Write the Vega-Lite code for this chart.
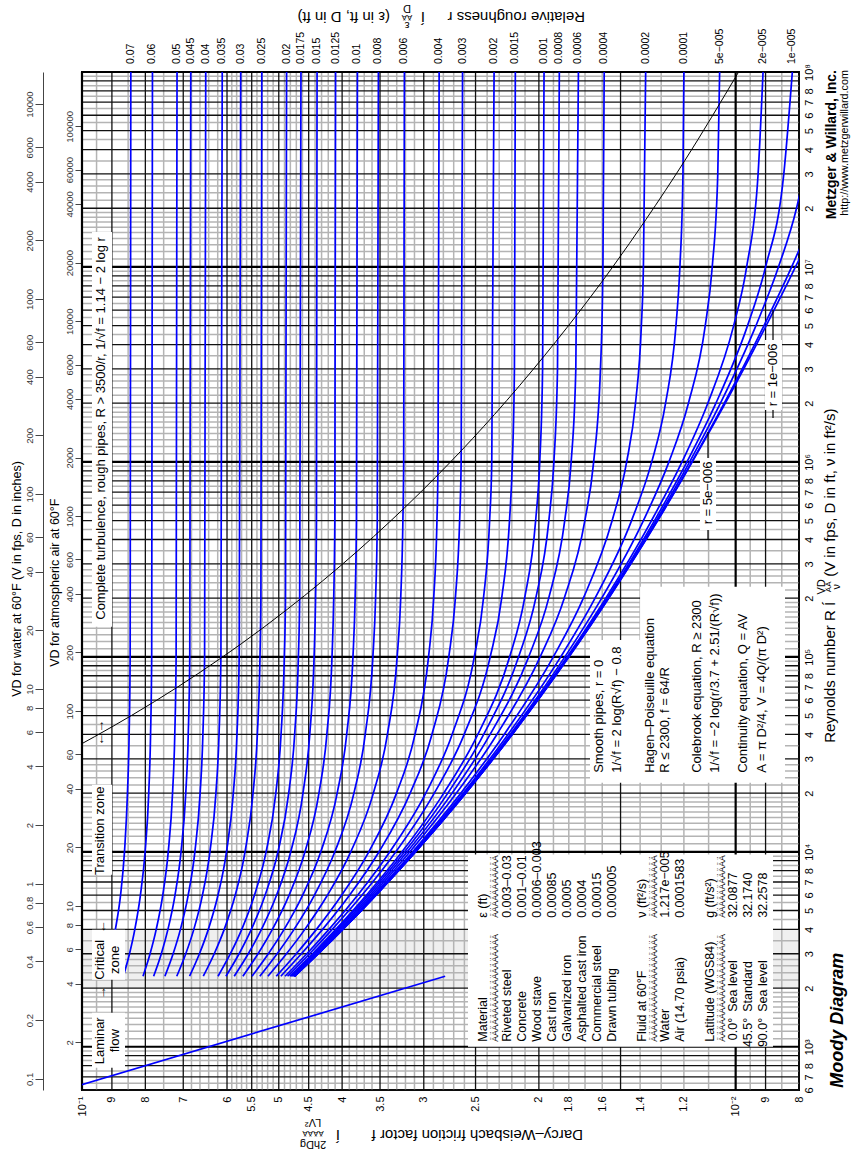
{
"$schema":"https://vega.github.io/schema/vega-lite/v6.json",
"width":717,"height":1018,
"autosize":{"type":"none"},
"padding":{"left":82,"top":72,"right":64,"bottom":67},
"background":"#ffffff",
"config":{"view":{"stroke":"#000000","strokeWidth":2},"font":"Liberation Sans","text":{"font":"Liberation Sans","color":"#000000"},"axis":{"labelFont":"Liberation Sans","titleFont":"Liberation Sans"}},
"datasets":{
"curves":[
{"r":"0.07","Re":[2300,3000,4000,6000,1e4,2e4,4e4,1e5,1e8],"f":[0.0921,0.0903,0.0889,0.0873,0.0861,0.0852,0.0847,0.0844,0.0842]},
{"r":"0.06","Re":[2300,3000,4000,6000,1e4,2e4,4e4,1e5,1e8],"f":[0.08645,0.08459,0.08302,0.0814,0.08006,0.07905,0.07854,0.07823,0.07802]},
{"r":"0.05","Re":[2300,3000,4000,6000,1e4,2e4,4e4,1e5,1e8],"f":[0.08066,0.07868,0.07699,0.07524,0.0738,0.07269,0.07212,0.07178,0.07155]},
{"r":"0.045","Re":[2300,3000,4000,6000,1e4,2e4,4e4,1e5,1e8],"f":[0.0777,0.07562,0.07388,0.07206,0.07055,0.06938,0.06878,0.06841,0.06817]},
{"r":"0.04","Re":[2300,3000,4000,6000,1e4,2e4,4e4,1e5,1e8],"f":[0.07468,0.07254,0.0707,0.06879,0.06719,0.06596,0.06532,0.06493,0.06467]},
{"r":"0.035","Re":[2300,3000,4000,6000,1e4,2e4,4e4,1e5,1e8],"f":[0.07162,0.06938,0.06744,0.06542,0.06372,0.06239,0.06171,0.0613,0.06102]},
{"r":"0.03","Re":[2300,3000,4000,6000,1e4,2e4,4e4,1e5,1e8],"f":[0.06846,0.06612,0.06408,0.06193,0.06011,0.05868,0.05793,0.05748,0.05717]},
{"r":"0.025","Re":[2300,3000,4000,6000,1e4,2e4,4e4,1e5,2e5,1e8],"f":[0.06523,0.06276,0.06059,0.05828,0.05631,0.05474,0.05392,0.05342,0.05325,0.05308]},
{"r":"0.02","Re":[2300,3000,4000,6000,1e4,2e4,4e4,1e5,2e5,1e8],"f":[0.06193,0.05929,0.05696,0.05446,0.05228,0.05052,0.0496,0.04903,0.04883,0.04864]},
{"r":"0.0175","Re":[2300,3000,4000,6000,1e4,2e4,4e4,1e5,2e5,1e8],"f":[0.06023,0.0575,0.05507,0.05245,0.05014,0.04828,0.04728,0.04666,0.04645,0.04624]},
{"r":"0.015","Re":[2300,3000,4000,6000,1e4,2e4,4e4,1e5,2e5,5e5,1e8],"f":[0.0585,0.05567,0.05314,0.05038,0.04793,0.04591,0.04483,0.04415,0.04392,0.04378,0.04369]},
{"r":"0.0125","Re":[2300,3000,4000,6000,1e4,2e4,4e4,1e5,2e5,5e5,1e8],"f":[0.05674,0.05379,0.05114,0.04821,0.04559,0.0434,0.04221,0.04145,0.0412,0.04104,0.04093]},
{"r":"0.01","Re":[2300,3000,4000,6000,1e4,2e4,4e4,1e5,2e5,5e5,1e8],"f":[0.05494,0.05187,0.04907,0.04596,0.04312,0.0407,0.03936,0.0385,0.03821,0.03803,0.0379]},
{"r":"0.008","Re":[2300,3000,4000,6000,1e4,2e4,4e4,1e5,2e5,5e5,1e8],"f":[0.05345,0.05029,0.04738,0.04409,0.04104,0.03837,0.03687,0.03589,0.03555,0.03534,0.0352]},
{"r":"0.006","Re":[2300,3000,4000,6000,1e4,2e4,4e4,1e5,2e5,5e5,1e6,1e8],"f":[0.05195,0.04866,0.04561,0.04211,0.0388,0.03583,0.0341,0.03295,0.03254,0.03229,0.0322,0.03212]},
{"r":"0.004","Re":[2300,3000,4000,6000,1e4,2e4,4e4,1e5,2e5,5e5,1e6,1e8],"f":[0.05044,0.04701,0.04379,0.04005,0.03641,0.03302,0.03094,0.0295,0.02897,0.02864,0.02853,0.02842]},
{"r":"0.003","Re":[2300,3000,4000,6000,1e4,2e4,4e4,1e5,2e5,5e5,1e6,1e8],"f":[0.04964,0.04617,0.04285,0.03895,0.03512,0.03147,0.02915,0.02747,0.02684,0.02644,0.0263,0.02617]},
{"r":"0.002","Re":[2300,3000,4000,6000,1e4,2e4,4e4,1e5,2e5,5e5,1e6,1e8],"f":[0.04891,0.04529,0.0419,0.03785,0.03381,0.02979,0.02715,0.02511,0.02431,0.02379,0.02361,0.02342]},
{"r":"0.0015","Re":[2300,3000,4000,6000,1e4,2e4,4e4,1e5,2e5,5e5,1e6,3e6,1e8],"f":[0.04848,0.04485,0.04142,0.03728,0.0331,0.02891,0.02602,0.02374,0.0228,0.02218,0.02196,0.0218,0.02173]},
{"r":"0.001","Re":[2300,3000,4000,6000,1e4,2e4,4e4,1e5,2e5,5e5,1e6,3e6,1e8],"f":[0.04809,0.04439,0.0409,0.0367,0.03239,0.02796,0.0248,0.02217,0.02103,0.02023,0.01994,0.01974,0.01964]},
{"r":"0.0008","Re":[2300,3000,4000,6000,1e4,2e4,4e4,1e5,2e5,5e5,1e6,3e6,1e8],"f":[0.04794,0.04422,0.04072,0.03647,0.03209,0.02756,0.02429,0.02148,0.02022,0.01931,0.01897,0.01873,0.01861]},
{"r":"0.0006","Re":[2300,3000,4000,6000,1e4,2e4,4e4,1e5,2e5,5e5,1e6,3e6,1e8],"f":[0.04775,0.04404,0.04052,0.03621,0.0318,0.02715,0.02375,0.02073,0.01932,0.01826,0.01785,0.01756,0.0174]},
{"r":"0.0004","Re":[2300,3000,4000,6000,1e4,2e4,4e4,1e5,2e5,5e5,1e6,3e6,1e7,1e8],"f":[0.04759,0.0439,0.04031,0.03598,0.0315,0.02674,0.02319,0.01991,0.01829,0.01701,0.01649,0.0161,0.01596,0.01589]},
{"r":"0.0002","Re":[2300,3000,4000,6000,1e4,2e4,4e4,1e5,2e5,5e5,1e6,2e6,5e6,1e7,1e8],"f":[0.04744,0.04369,0.0401,0.03575,0.03119,0.02632,0.0226,0.01901,0.0171,0.01545,0.01468,0.01423,0.01394,0.01384,0.01373]},
{"r":"0.0001","Re":[2300,3000,4000,6000,1e4,2e4,4e4,1e5,2e5,5e5,1e6,2e6,5e6,1e7,3e7,1e8],"f":[0.04735,0.04361,0.04001,0.03563,0.03104,0.0261,0.0223,0.01852,0.01641,0.01443,0.01344,0.0128,0.01234,0.01217,0.01204,0.012]},
{"r":"5e−005","Re":[2300,3000,4000,6000,1e4,2e4,4e4,1e5,2e5,5e5,1e6,2e6,5e6,1e7,3e7,1e8],"f":[0.04734,0.04356,0.03995,0.03556,0.03095,0.02599,0.02213,0.01825,0.01603,0.01384,0.01265,0.01181,0.01113,0.01086,0.01065,0.01058]},
{"r":"2e−005","Re":[2300,3000,4000,6000,1e4,2e4,4e4,1e5,2e5,5e5,1e6,2e6,5e6,1e7,3e7,1e8],"f":[0.04731,0.04355,0.03993,0.03553,0.03091,0.02593,0.02203,0.0181,0.0158,0.01345,0.01208,0.01103,0.01007,0.00962,0.00924,0.00908]},
{"r":"1e−005","Re":[2300,3000,4000,6000,1e4,2e4,4e4,1e5,2e5,5e5,1e6,2e6,5e6,1e7,3e7,1e8],"f":[0.04729,0.04353,0.03992,0.03552,0.0309,0.0259,0.022,0.01804,0.01572,0.01331,0.01187,0.01072,0.00959,0.009,0.00844,0.00819]},
{"r":"5e−006","Re":[2300,3000,4000,6000,1e4,2e4,4e4,1e5,2e5,5e5,1e6,2e6,5e6,1e7,2e7,3e7],"f":[0.04729,0.04353,0.03991,0.03551,0.03089,0.02589,0.02199,0.01802,0.01568,0.01323,0.01176,0.01055,0.00931,0.0086,0.00807,0.00786]},
{"r":"1e−006","Re":[2300,3000,4000,6000,1e4,2e4,4e4,1e5,2e5,5e5,1e6,2e6,5e6,1e7,2e7],"f":[0.04728,0.04352,0.03991,0.03551,0.03088,0.02589,0.02197,0.01799,0.01565,0.01317,0.01167,0.01041,0.00905,0.00821,0.00752]},
{"r":"0","Re":[2300,3000,4000,6000,1e4,2e4,4e4,1e5,2e5,5e5,1e6,2e6,5e6,1e7,3e7],"f":[0.04728,0.04352,0.03991,0.03551,0.03088,0.02589,0.02197,0.01799,0.01564,0.01316,0.01165,0.01037,0.00898,0.0081,0.00695]}
]
},
"layer":[
{"data":{"values":[{"f":0.05,"Re":10000}]},
 "mark":{"type":"point","opacity":0},
 "encoding":{
 "x":{"field":"f","type":"quantitative","scale":{"type":"log","domain":[0.008,0.1],"reverse":true,"nice":false},
  "axis":{"orient":"bottom","values":[0.1,0.09,0.08,0.07,0.06,0.055,0.05,0.045,0.04,0.035,0.03,0.025,0.02,0.018,0.016,0.014,0.012,0.01,0.009,0.008],
  "labelExpr":"datum.value == 0.1 ? '10⁻¹' : datum.value == 0.01 ? '10⁻²' : datum.value > 0.01 ? format(datum.value * 100, '~g') : format(datum.value * 1000, '~g')",
  "labelAngle":270,"labelAlign":"right","labelBaseline":"middle","labelPadding":6,"labelFontSize":11,"labelColor":"#000000","ticks":false,"domain":false,"grid":false,"title":null,"labelOverlap":false,"labelFlush":false,"labelBound":false,"zindex":2}},
 "y":{"field":"Re","type":"quantitative","scale":{"type":"log","domain":[600,100000000],"nice":false},
  "axis":{"orient":"right","values":[600,700,800,1000,2000,3000,4000,5000,6000,7000,8000,10000,20000,30000,40000,50000,60000,70000,80000,100000,200000,300000,400000,500000,600000,700000,800000,1000000,2000000,3000000,4000000,5000000,6000000,7000000,8000000,10000000,20000000,30000000,40000000,50000000,60000000,70000000,80000000,100000000],
  "labelExpr":"datum.value == 1000 ? '10³' : datum.value == 10000 ? '10⁴' : datum.value == 100000 ? '10⁵' : datum.value == 1000000 ? '10⁶' : datum.value == 10000000 ? '10⁷' : datum.value == 100000000 ? '10⁸' : format(round(datum.value / pow(10, floor(log(datum.value) / LN10 + 1e-9))), 'd')",
  "labelAngle":270,"labelAlign":"center","labelBaseline":"top","labelPadding":4,"labelFontSize":11,"labelColor":"#000000","ticks":false,"domain":false,"grid":false,"title":null,"labelOverlap":false,"labelFlush":false,"labelBound":false,"zindex":2}}}},
{"data":{"values":[{"f1":0.1,"f2":0.008,"Re1":2000,"Re2":4000}]},
 "mark":{"type":"rect","color":"#efefef"},
 "encoding":{"x":{"field":"f1","type":"quantitative","scale":{"type":"log","domain":[0.008,0.1],"reverse":true,"nice":false},"axis":null},"x2":{"field":"f2"},
 "y":{"field":"Re1","type":"quantitative","scale":{"type":"log","domain":[600,100000000],"nice":false},"axis":null},"y2":{"field":"Re2"}}},
{"data":{"values":[0.095,0.085,0.075,0.068,0.066,0.064,0.062,0.059,0.058,0.057,0.056,0.054,0.053,0.052,0.051,0.049,0.048,0.047,0.046,0.044,0.043,0.042,0.041,0.039,0.038,0.037,0.036,0.034,0.033,0.032,0.031,0.029,0.028,0.027,0.026,0.024,0.023,0.022,0.021,0.019,0.018,0.017,0.016,0.014,0.013,0.012,0.011,0.0095,0.0085]},
 "mark":{"type":"rule","color":"#b4b4b4","strokeWidth":1.5},
 "encoding":{"x":{"field":"data","type":"quantitative","scale":{"type":"log","domain":[0.008,0.1],"reverse":true,"nice":false},"axis":null}}},
{"data":{"values":[650,750,850,950,1100,1200,1300,1400,1500,1600,1700,1800,1900,2200,2400,2600,2800,3500,4500,5500,6500,7500,8500,9500,11000,12000,13000,14000,15000,16000,17000,18000,19000,22000,24000,26000,28000,35000,45000,55000,65000,75000,85000,95000,110000,120000,130000,140000,150000,160000,170000,180000,190000,220000,240000,260000,280000,350000,450000,550000,650000,750000,850000,950000,1.1e6,1.2e6,1.3e6,1.4e6,1.5e6,1.6e6,1.7e6,1.8e6,1.9e6,2.2e6,2.4e6,2.6e6,2.8e6,3.5e6,4.5e6,5.5e6,6.5e6,7.5e6,8.5e6,9.5e6,1.1e7,1.2e7,1.3e7,1.4e7,1.5e7,1.6e7,1.7e7,1.8e7,1.9e7,2.2e7,2.4e7,2.6e7,2.8e7,3.5e7,4.5e7,5.5e7,6.5e7,7.5e7,8.5e7,9.5e7]},
 "mark":{"type":"rule","color":"#b4b4b4","strokeWidth":1.5},
 "encoding":{"y":{"field":"data","type":"quantitative","scale":{"type":"log","domain":[600,100000000],"nice":false},"axis":null}}},
{"data":{"values":[0.09,0.08,0.07,0.06,0.055,0.05,0.045,0.04,0.035,0.03,0.025,0.02,0.015,0.009,0.008]},
 "mark":{"type":"rule","color":"#111111","strokeWidth":1.3},
 "encoding":{"x":{"field":"data","type":"quantitative","scale":{"type":"log","domain":[0.008,0.1],"reverse":true,"nice":false},"axis":null}}},
{"data":{"values":[600,700,800,900,2000,3000,4000,5000,6000,7000,8000,9000,20000,30000,40000,50000,60000,70000,80000,90000,2e5,3e5,4e5,5e5,6e5,7e5,8e5,9e5,2e6,3e6,4e6,5e6,6e6,7e6,8e6,9e6,2e7,3e7,4e7,5e7,6e7,7e7,8e7,9e7]},
 "mark":{"type":"rule","color":"#111111","strokeWidth":1.3},
 "encoding":{"y":{"field":"data","type":"quantitative","scale":{"type":"log","domain":[600,100000000],"nice":false},"axis":null}}},
{"data":{"values":[0.1,0.01]},
 "mark":{"type":"rule","color":"#000000","strokeWidth":2.2},
 "encoding":{"x":{"field":"data","type":"quantitative","scale":{"type":"log","domain":[0.008,0.1],"reverse":true,"nice":false},"axis":null}}},
{"data":{"values":[1000,10000,100000,1000000,10000000,100000000]},
 "mark":{"type":"rule","color":"#000000","strokeWidth":2.2},
 "encoding":{"y":{"field":"data","type":"quantitative","scale":{"type":"log","domain":[600,100000000],"nice":false},"axis":null}}},
{"data":{"values":[{"Re":600,"f":0.10667},{"Re":2300,"f":0.027826}]},
 "mark":{"type":"line","clip":true,"color":"#0000ff","strokeWidth":1.7},
 "encoding":{"x":{"field":"f","type":"quantitative","scale":{"type":"log","domain":[0.008,0.1],"reverse":true,"nice":false},"axis":null},
 "y":{"field":"Re","type":"quantitative","scale":{"type":"log","domain":[600,100000000],"nice":false},"axis":null}}},
{"data":{"name":"curves"},"transform":[{"flatten":["Re","f"]}],
 "mark":{"type":"line","clip":true,"color":"#0000ff","strokeWidth":1.7,"interpolate":"monotone"},
 "encoding":{
 "x":{"field":"f","type":"quantitative","scale":{"type":"log","domain":[0.008,0.1],"reverse":true,"nice":false},"axis":null},
 "y":{"field":"Re","type":"quantitative","scale":{"type":"log","domain":[600,100000000],"nice":false},"axis":null},
 "detail":{"field":"r"},
 "order":{"field":"Re","type":"quantitative"}}},
{"data":{"values":[{"Re":35897,"f":0.1},{"Re":38889,"f":0.09576},{"Re":50000,"f":0.08403},{"Re":70000,"f":0.07141},{"Re":100000,"f":0.06091},{"Re":116667,"f":0.05707},{"Re":175000,"f":0.04856},{"Re":350000,"f":0.03785},{"Re":700000,"f":0.03033},{"Re":1000000,"f":0.0273},{"Re":1750000,"f":0.02339},{"Re":3500000,"f":0.01962},{"Re":7000000,"f":0.01668},{"Re":10000000,"f":0.01542},{"Re":17500000,"f":0.01372},{"Re":35000000,"f":0.01197},{"Re":100000000,"f":0.009897}]},
 "mark":{"type":"line","clip":true,"color":"#000000","strokeWidth":1,"interpolate":"monotone"},
 "encoding":{"x":{"field":"f","type":"quantitative","scale":{"type":"log","domain":[0.008,0.1],"reverse":true,"nice":false},"axis":null},
 "y":{"field":"Re","type":"quantitative","scale":{"type":"log","domain":[600,100000000],"nice":false},"axis":null},
 "order":{"field":"Re","type":"quantitative"}}},
{"data":{"values":[{"f":0.008767,"Re1":1681000,"Re2":6020000},{"f":0.011023,"Re1":398000,"Re2":1425000}]},
 "mark":{"type":"rule","color":"#000000","strokeWidth":1.2},
 "encoding":{"x":{"field":"f","type":"quantitative","scale":{"type":"log","domain":[0.008,0.1],"reverse":true,"nice":false},"axis":null},
 "y":{"field":"Re1","type":"quantitative","scale":{"type":"log","domain":[600,100000000],"nice":false},"axis":null},"y2":{"field":"Re2"}}},
{"data":{"values":[
 {"f1":0.09654,"f2":0.08594,"Re1":780,"Re2":1494},
 {"f1":0.09654,"f2":0.08594,"Re1":2206,"Re2":3981},
 {"f1":0.09654,"f2":0.08995,"Re1":7622,"Re2":22060},
 {"f1":0.09654,"f2":0.08995,"Re1":142500,"Re2":15120000},
 {"f1":0.025674,"f2":0.008767,"Re1":1000,"Re2":9700},
 {"f1":0.016704,"f2":0.008404,"Re1":22590,"Re2":122200},
 {"f1":0.014003,"f2":0.008404,"Re1":122200,"Re2":228600},
 {"f1":0.009018,"f2":0.008494,"Re1":1848000,"Re2":4223000},
 {"f1":0.011339,"f2":0.010716,"Re1":448000,"Re2":1048000}]},
 "mark":{"type":"rect","color":"#ffffff"},
 "encoding":{"x":{"field":"f1","type":"quantitative","scale":{"type":"log","domain":[0.008,0.1],"reverse":true,"nice":false},"axis":null},"x2":{"field":"f2"},
 "y":{"field":"Re1","type":"quantitative","scale":{"type":"log","domain":[600,100000000],"nice":false},"axis":null},"y2":{"field":"Re2"}}},
{"data":{"name":"curves"},"transform":[{"flatten":["Re","f"]},{"filter":"datum.Re >= 1e8"}],
 "mark":{"type":"text","angle":270,"align":"left","baseline":"middle","dx":8,"fontSize":10.5},
 "encoding":{"x":{"field":"f","type":"quantitative","scale":{"type":"log","domain":[0.008,0.1],"reverse":true,"nice":false},"axis":null},
 "y":{"field":"Re","type":"quantitative","scale":{"type":"log","domain":[600,100000000],"nice":false},"axis":null},"text":{"field":"r"}}},
{"data":{"values":[
 {"t":"Laminar","f":0.09386,"Re":1073},{"t":"flow","f":0.08902,"Re":1073},
 {"t":"Critical","f":0.09386,"Re":2793},{"t":"zone","f":0.08902,"Re":2793},
 {"t":"Transition zone","f":0.09386,"Re":12815},
 {"t":"→","f":0.0932,"Re":1892},{"t":"←","f":0.0932,"Re":4124},{"t":"←→","f":0.09386,"Re":40760},
 {"t":"r = 1e−006","f":0.008767,"Re":2794000},{"t":"r = 5e−006","f":0.011023,"Re":693500}]},
 "mark":{"type":"text","angle":270,"align":"center","baseline":"middle","fontSize":13},
 "encoding":{"x":{"field":"f","type":"quantitative","scale":{"type":"log","domain":[0.008,0.1],"reverse":true,"nice":false},"axis":null},
 "y":{"field":"Re","type":"quantitative","scale":{"type":"log","domain":[600,100000000],"nice":false},"axis":null},"text":{"field":"t"}}},
{"data":{"values":[
 {"t":"Complete turbulence, rough pipes, R > 3500/r, 1/√f = 1.14 − 2 log r","f":0.09353,"Re":155000},
 {"t":"Smooth pipes, r = 0","f":0.016181,"Re":25420},
 {"t":"1/√f = 2 log(R√f) − 0.8","f":0.015187,"Re":25420},
 {"t":"Hagen–Poiseuille equation","f":0.013523,"Re":25420},
 {"t":"R ≤ 2300,  f = 64/R","f":0.012826,"Re":25420},
 {"t":"Colebrook equation, R ≥ 2300","f":0.01146,"Re":25420},
 {"t":"1/√f = −2 log(r/3.7 + 2.51/(R√f))","f":0.010755,"Re":25420},
 {"t":"Continuity equation, Q = AV","f":0.0097445,"Re":25420},
 {"t":"A = π D²/4,  V = 4Q/(π D²)","f":0.0091141,"Re":25420}]},
 "mark":{"type":"text","angle":270,"align":"left","baseline":"middle","fontSize":13},
 "encoding":{"x":{"field":"f","type":"quantitative","scale":{"type":"log","domain":[0.008,0.1],"reverse":true,"nice":false},"axis":null},
 "y":{"field":"Re","type":"quantitative","scale":{"type":"log","domain":[600,100000000],"nice":false},"axis":null},"text":{"field":"t"}}},
{"data":{"values":[
 {"t":"Material","f":0.024354,"Re":1061},{"t":"ε (ft)","f":0.024354,"Re":4586},
 {"t":"Riveted steel","f":0.022378,"Re":1061},{"t":"0.003–0.03","f":0.022378,"Re":4586},
 {"t":"Concrete","f":0.021224,"Re":1061},{"t":"0.001–0.01","f":0.021224,"Re":4586},
 {"t":"Wood stave","f":0.02013,"Re":1061},{"t":"0.0006–0.003","f":0.02013,"Re":4586},
 {"t":"Cast iron","f":0.019094,"Re":1061},{"t":"0.00085","f":0.019094,"Re":4586},
 {"t":"Galvanized iron","f":0.018112,"Re":1061},{"t":"0.0005","f":0.018112,"Re":4586},
 {"t":"Asphalted cast iron","f":0.017179,"Re":1061},{"t":"0.0004","f":0.017179,"Re":4586},
 {"t":"Commercial steel","f":0.016295,"Re":1061},{"t":"0.00015","f":0.016295,"Re":4586},
 {"t":"Drawn tubing","f":0.015456,"Re":1061},{"t":"0.000005","f":0.015456,"Re":4586},
 {"t":"Fluid at 60°F","f":0.013905,"Re":1061},{"t":"ν (ft²/s)","f":0.013905,"Re":4586},
 {"t":"Water","f":0.012826,"Re":1061},{"t":"1.217e−005","f":0.012826,"Re":4586},
 {"t":"Air (14.70 psia)","f":0.012166,"Re":1061},{"t":"0.0001583","f":0.012166,"Re":4586},
 {"t":"Latitude (WGS84)","f":0.010945,"Re":1061},{"t":"g (ft/s²)","f":0.010945,"Re":4586},
 {"t":"Sea level","f":0.010094,"Re":1512},{"t":"32.0877","f":0.010094,"Re":4586},
 {"t":"Standard","f":0.0095743,"Re":1512},{"t":"32.1740","f":0.0095743,"Re":4586},
 {"t":"Sea level","f":0.009082,"Re":1512},{"t":"32.2578","f":0.009082,"Re":4586}]},
 "mark":{"type":"text","angle":270,"align":"left","baseline":"middle","fontSize":12.5},
 "encoding":{"x":{"field":"f","type":"quantitative","scale":{"type":"log","domain":[0.008,0.1],"reverse":true,"nice":false},"axis":null},
 "y":{"field":"Re","type":"quantitative","scale":{"type":"log","domain":[600,100000000],"nice":false},"axis":null},"text":{"field":"t"}}},
{"data":{"values":[{"t":"0.0°","f":0.010094,"Re":1408},{"t":"45.5°","f":0.0095743,"Re":1408},{"t":"90.0°","f":0.009082,"Re":1408}]},
 "mark":{"type":"text","angle":270,"align":"right","baseline":"middle","fontSize":12.5},
 "encoding":{"x":{"field":"f","type":"quantitative","scale":{"type":"log","domain":[0.008,0.1],"reverse":true,"nice":false},"axis":null},
 "y":{"field":"Re","type":"quantitative","scale":{"type":"log","domain":[600,100000000],"nice":false},"axis":null},"text":{"field":"t"}}},
{"data":{"values":[
 {"t":"ÄÄÄÄÄÄÄÄÄÄÄÄÄÄÄÄÄÄÄ","f":0.023346,"Re":1061},{"t":"ÄÄÄÄÄÄÄÄÄÄÄ","f":0.023346,"Re":4586},
 {"t":"ÄÄÄÄÄÄÄÄÄÄÄÄÄÄÄÄÄÄÄ","f":0.013326,"Re":1061},{"t":"ÄÄÄÄÄÄÄÄÄÄÄ","f":0.013326,"Re":4586},
 {"t":"ÄÄÄÄÄÄÄÄÄÄÄÄÄÄÄÄÄÄÄ","f":0.010493,"Re":1061},{"t":"ÄÄÄÄÄÄÄÄÄÄÄ","f":0.010493,"Re":4586}]},
 "mark":{"type":"text","angle":270,"align":"left","baseline":"middle","fontSize":8.5},
 "encoding":{"x":{"field":"f","type":"quantitative","scale":{"type":"log","domain":[0.008,0.1],"reverse":true,"nice":false},"axis":null},
 "y":{"field":"Re","type":"quantitative","scale":{"type":"log","domain":[600,100000000],"nice":false},"axis":null},"text":{"field":"t"}}},
{"data":{"values":[{"t":"Reynolds number  R  Í","f":0.007171,"Re":36230},{"t":"(V in fps, D in ft, ν in ft²/s)","f":0.007171,"Re":257200}]},
 "mark":{"type":"text","angle":270,"align":"left","baseline":"middle","fontSize":15},
 "encoding":{"x":{"field":"f","type":"quantitative","scale":{"type":"log","domain":[0.008,0.1],"reverse":true,"nice":false},"axis":null},
 "y":{"field":"Re","type":"quantitative","scale":{"type":"log","domain":[600,100000000],"nice":false},"axis":null},"text":{"field":"t"}}},
{"data":{"values":[{"t":"VD","f":0.00737,"Re":228600},{"t":"ν","f":0.006996,"Re":228600}]},
 "mark":{"type":"text","angle":270,"align":"center","baseline":"middle","fontSize":11},
 "encoding":{"x":{"field":"f","type":"quantitative","scale":{"type":"log","domain":[0.008,0.1],"reverse":true,"nice":false},"axis":null},
 "y":{"field":"Re","type":"quantitative","scale":{"type":"log","domain":[600,100000000],"nice":false},"axis":null},"text":{"field":"t"}}},
{"data":{"values":[{"t":"ÄÄ","f":0.007196,"Re":228600}]},
 "mark":{"type":"text","angle":270,"align":"center","baseline":"middle","fontSize":8},
 "encoding":{"x":{"field":"f","type":"quantitative","scale":{"type":"log","domain":[0.008,0.1],"reverse":true,"nice":false},"axis":null},
 "y":{"field":"Re","type":"quantitative","scale":{"type":"log","domain":[600,100000000],"nice":false},"axis":null},"text":{"field":"t"}}},
{"data":{"values":[{"t":"VD for water at 60°F (V in fps, D in inches)","f":0.12573,"Re":62360},{"t":"VD for atmospheric air at 60°F","f":0.11,"Re":88870}]},
 "mark":{"type":"text","angle":270,"align":"left","baseline":"middle","fontSize":12.5},
 "encoding":{"x":{"field":"f","type":"quantitative","scale":{"type":"log","domain":[0.008,0.1],"reverse":true,"nice":false},"axis":null},
 "y":{"field":"Re","type":"quantitative","scale":{"type":"log","domain":[600,100000000],"nice":false},"axis":null},"text":{"field":"t"}}},
{"data":{"values":[{"t":"Metzger & Willard, Inc.","f":0.007121,"Re":102400000}]},
 "mark":{"type":"text","angle":270,"align":"right","baseline":"middle","fontSize":14,"fontWeight":"bold"},
 "encoding":{"x":{"field":"f","type":"quantitative","scale":{"type":"log","domain":[0.008,0.1],"reverse":true,"nice":false},"axis":null},
 "y":{"field":"Re","type":"quantitative","scale":{"type":"log","domain":[600,100000000],"nice":false},"axis":null},"text":{"field":"t"}}},
{"data":{"values":[{"t":"http://www.metzgerwillard.com","f":0.006803,"Re":102400000}]},
 "mark":{"type":"text","angle":270,"align":"right","baseline":"middle","fontSize":10.8},
 "encoding":{"x":{"field":"f","type":"quantitative","scale":{"type":"log","domain":[0.008,0.1],"reverse":true,"nice":false},"axis":null},
 "y":{"field":"Re","type":"quantitative","scale":{"type":"log","domain":[600,100000000],"nice":false},"axis":null},"text":{"field":"t"}}},
{"data":{"values":[{"t":"Moody Diagram","f":0.006972,"Re":616.3}]},
 "mark":{"type":"text","angle":270,"align":"left","baseline":"middle","fontSize":18,"fontWeight":"bold","fontStyle":"italic"},
 "encoding":{"x":{"field":"f","type":"quantitative","scale":{"type":"log","domain":[0.008,0.1],"reverse":true,"nice":false},"axis":null},
 "y":{"field":"Re","type":"quantitative","scale":{"type":"log","domain":[600,100000000],"nice":false},"axis":null},"text":{"field":"t"}}},
{"data":{"values":[{"t":"Relative roughness  r","f":0.016999,"Re":191400000},{"t":"(ε in ft, D in ft)","f":0.033795,"Re":191400000},{"t":"Darcy–Weisbach friction factor  f","f":0.017119,"Re":353.8}]},
 "mark":{"type":"text","angle":180,"align":"left","baseline":"middle","fontSize":15},
 "encoding":{"x":{"field":"f","type":"quantitative","scale":{"type":"log","domain":[0.008,0.1],"reverse":true,"nice":false},"axis":null},
 "y":{"field":"Re","type":"quantitative","scale":{"type":"log","domain":[600,100000000],"nice":false},"axis":null},"text":{"field":"t"}}},
{"data":{"values":[{"t":"Í","f":0.030104,"Re":191400000},{"t":"Í","f":0.040596,"Re":353.8}]},
 "mark":{"type":"text","angle":180,"align":"center","baseline":"middle","fontSize":15},
 "encoding":{"x":{"field":"f","type":"quantitative","scale":{"type":"log","domain":[0.008,0.1],"reverse":true,"nice":false},"axis":null},
 "y":{"field":"Re","type":"quantitative","scale":{"type":"log","domain":[600,100000000],"nice":false},"axis":null},"text":{"field":"t"}}},
{"data":{"values":[{"t":"D","f":0.031826,"Re":212000000},{"t":"ε","f":0.031826,"Re":175000000},{"t":"LV²","f":0.044311,"Re":412},{"t":"2hDg","f":0.044311,"Re":318}]},
 "mark":{"type":"text","angle":180,"align":"center","baseline":"middle","fontSize":11},
 "encoding":{"x":{"field":"f","type":"quantitative","scale":{"type":"log","domain":[0.008,0.1],"reverse":true,"nice":false},"axis":null},
 "y":{"field":"Re","type":"quantitative","scale":{"type":"log","domain":[600,100000000],"nice":false},"axis":null},"text":{"field":"t"}}},
{"data":{"values":[{"t":"ÄÄ","f":0.031826,"Re":191400000},{"t":"ÄÄÄÄ","f":0.044311,"Re":362.3}]},
 "mark":{"type":"text","angle":180,"align":"center","baseline":"middle","fontSize":8},
 "encoding":{"x":{"field":"f","type":"quantitative","scale":{"type":"log","domain":[0.008,0.1],"reverse":true,"nice":false},"axis":null},
 "y":{"field":"Re","type":"quantitative","scale":{"type":"log","domain":[600,100000000],"nice":false},"axis":null},"text":{"field":"t"}}},
{"data":{"values":[{"v":1}]},
 "mark":{"type":"point","opacity":0},
 "encoding":{"y":{"field":"v","type":"quantitative","scale":{"type":"log","domain":[0.087624,14604.1],"nice":false},
 "axis":{"orient":"left","offset":39,"values":[0.1,0.2,0.4,0.6,0.8,1,2,4,6,8,10,20,40,60,100,200,400,600,1000,2000,4000,6000,10000],"format":"~g",
 "labelAngle":270,"labelAlign":"center","labelBaseline":"bottom","labelPadding":1,"labelFontSize":9.5,"labelColor":"#333333","tickSize":8,"tickColor":"#444444","domainColor":"#444444","grid":false,"title":null,"labelOverlap":false,"labelFlush":false,"labelBound":false}}}},
{"data":{"values":[{"v":1}]},
 "mark":{"type":"point","opacity":0},
 "encoding":{"y":{"field":"v","type":"quantitative","scale":{"type":"log","domain":[1.13975,189959],"nice":false},
 "axis":{"orient":"left","offset":0,"values":[2,4,6,8,10,20,40,60,100,200,400,600,1000,2000,4000,6000,10000,20000,40000,60000,100000],"format":"~g",
 "labelAngle":270,"labelAlign":"center","labelBaseline":"bottom","labelPadding":1,"labelFontSize":9.5,"labelColor":"#333333","tickSize":7,"tickColor":"#444444","domain":false,"grid":false,"title":null,"labelOverlap":false,"labelFlush":false,"labelBound":false}}}}
],
"resolve":{"scale":{"x":"independent","y":"independent"}}
}
